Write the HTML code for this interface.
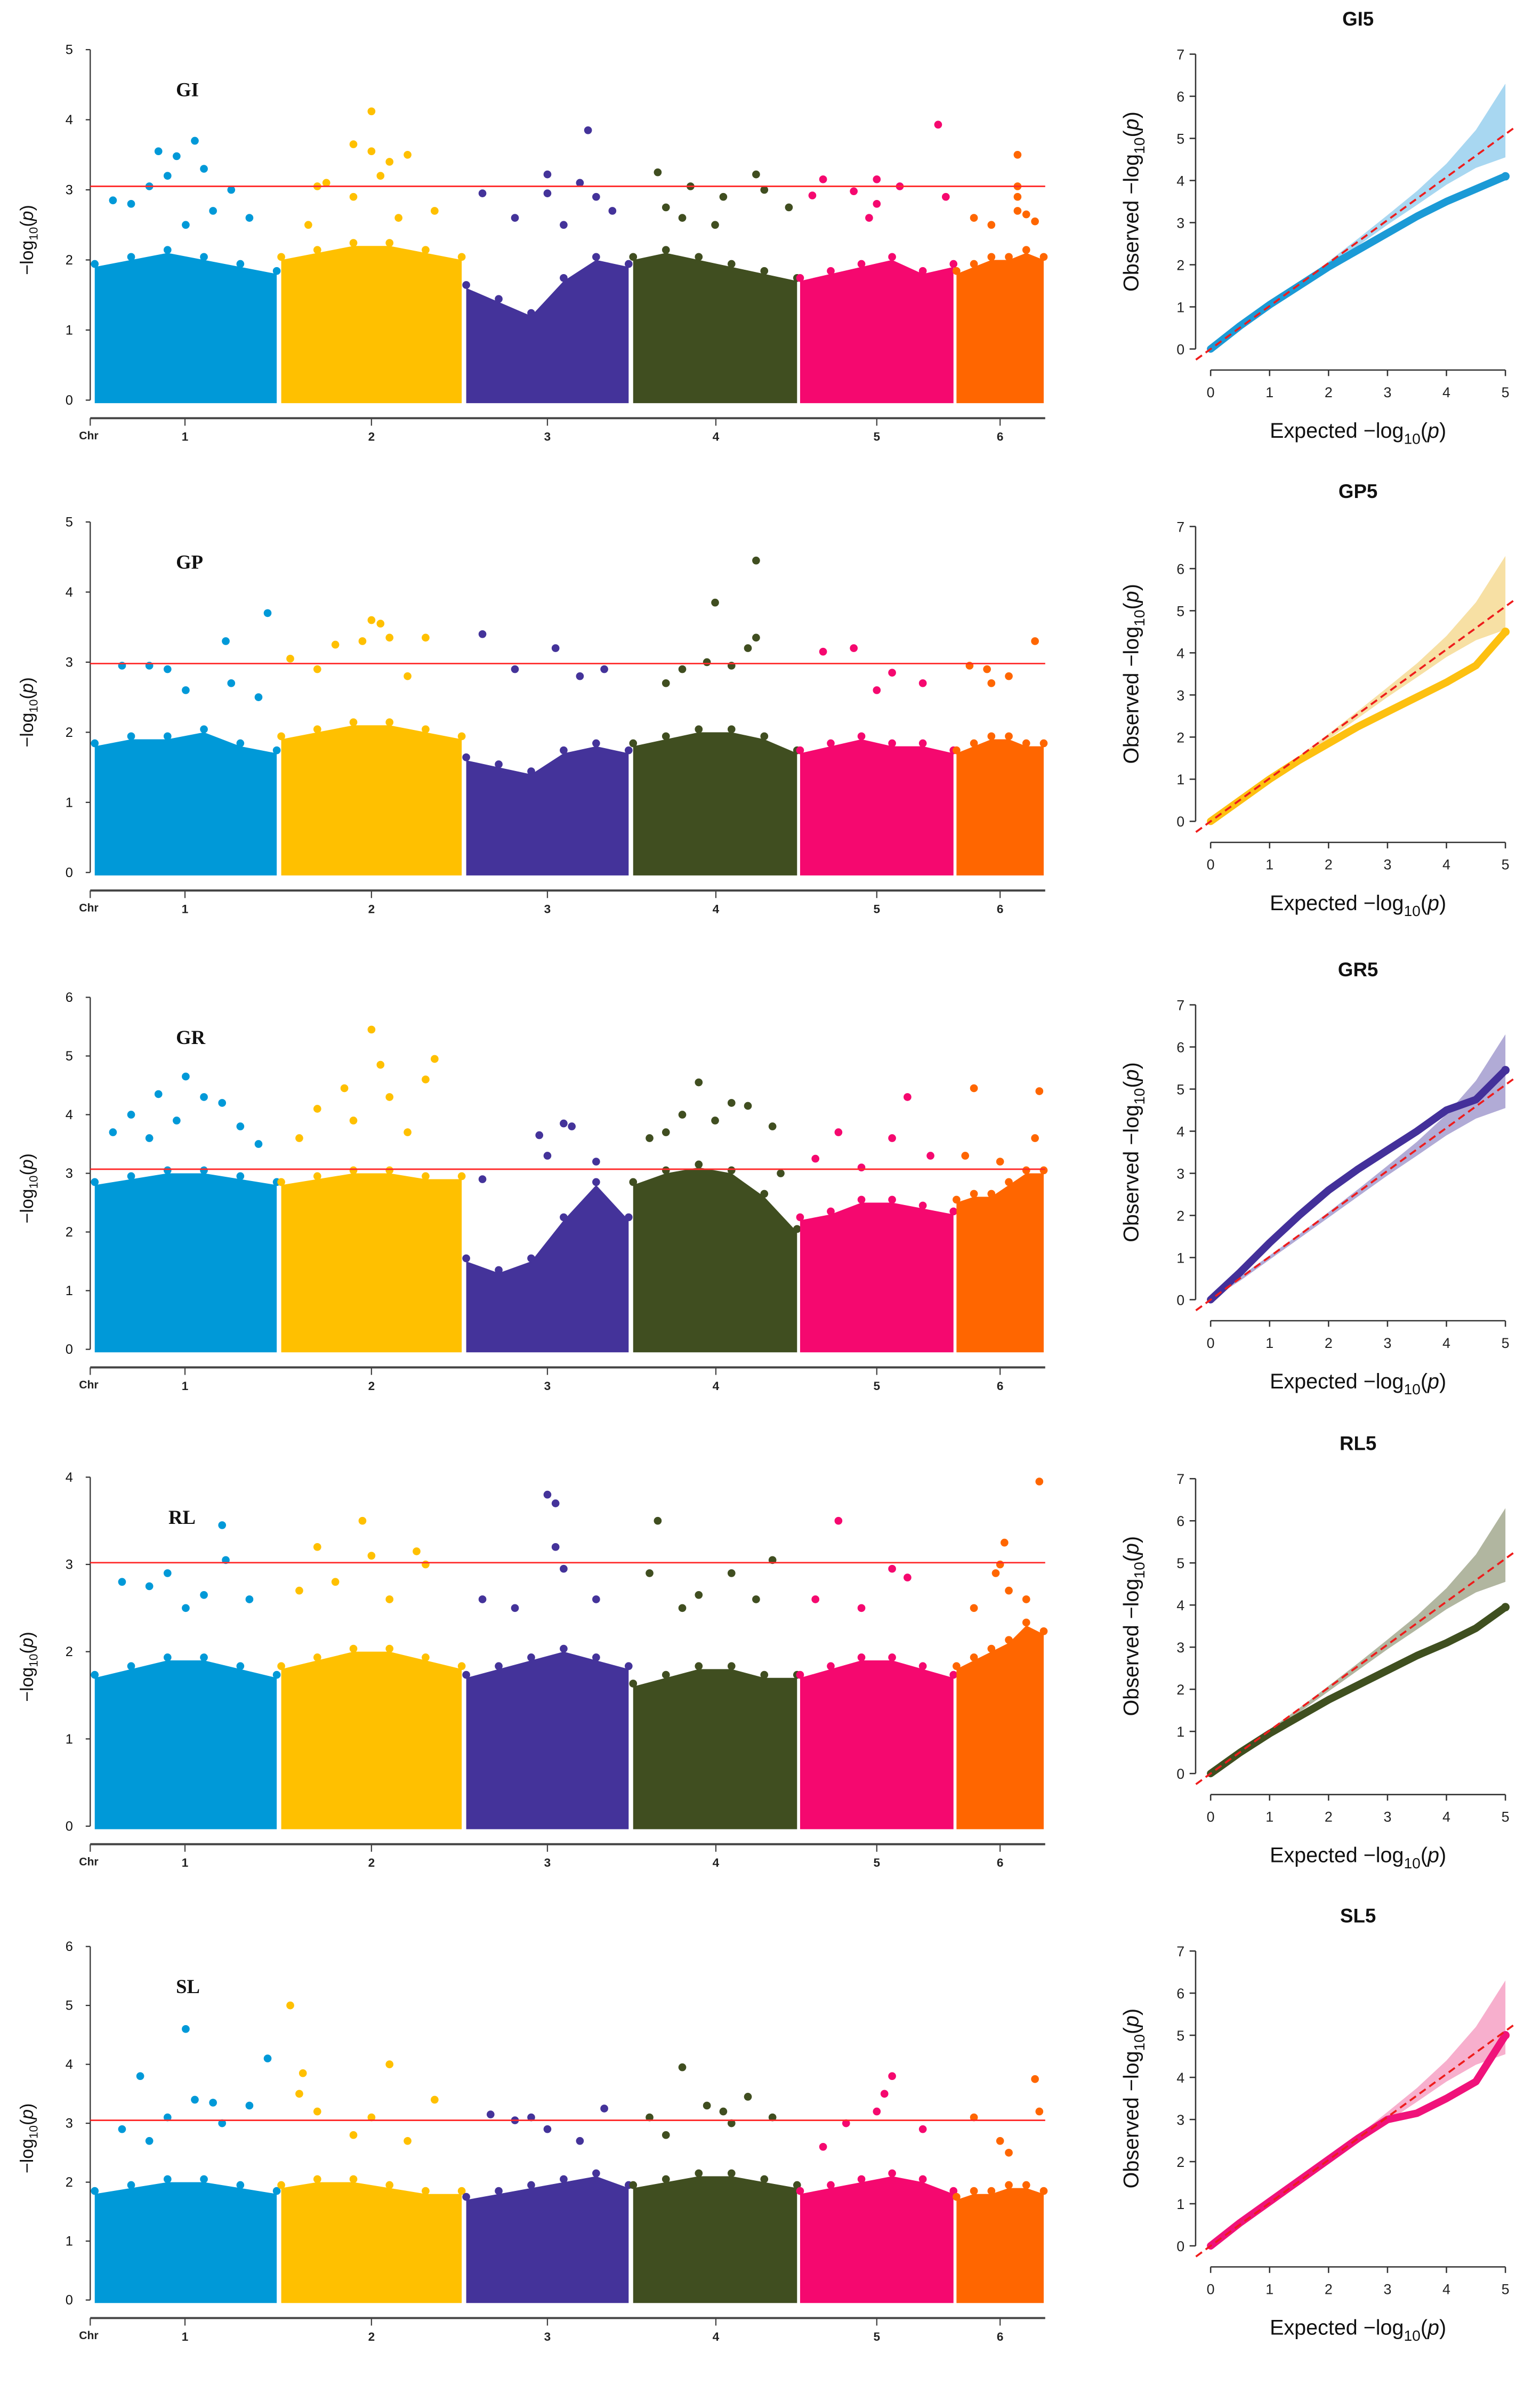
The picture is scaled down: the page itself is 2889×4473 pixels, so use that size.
<!DOCTYPE html>
<html><head><meta charset="utf-8"><style>
html,body{margin:0;padding:0;background:#fff;}
svg{display:block;}
text{font-family:"Liberation Sans",sans-serif;}
</style></head><body>
<svg id="fig" width="2889" height="4473" viewBox="0 0 1024 1585.5" preserveAspectRatio="none" xmlns="http://www.w3.org/2000/svg"></svg>
<script>
// ---------- data ----------
const chrNames = ["1","2","3","4","5","6"];
const chrColors = ["#0099d8","#ffc000","#44339a","#404e20","#f5086f","#ff6600"];
const traitNames = ["GI","GP","GR","RL","SL"];
const yMaxes = [5,5,6,4,6];
const thresholds = [3.05,2.98,3.07,3.02,3.05];
const envGI = [[1.9,2.0,2.1,2.0,1.9,1.8],[2.0,2.1,2.2,2.2,2.1,2.0],[1.6,1.4,1.2,1.7,2.0,1.9],[2.0,2.1,2.0,1.9,1.8,1.7],[1.7,1.8,1.9,2.0,1.8,1.9],[1.8,1.9,2.0,2.0,2.1,2.0]];
const envGP = [[1.8,1.9,1.9,2.0,1.8,1.7],[1.9,2.0,2.1,2.1,2.0,1.9],[1.6,1.5,1.4,1.7,1.8,1.7],[1.8,1.9,2.0,2.0,1.9,1.7],[1.7,1.8,1.9,1.8,1.8,1.7],[1.7,1.8,1.9,1.9,1.8,1.8]];
const envGR = [[2.8,2.9,3.0,3.0,2.9,2.8],[2.8,2.9,3.0,3.0,2.9,2.9],[1.5,1.3,1.5,2.2,2.8,2.2],[2.8,3.0,3.1,3.0,2.6,2.0],[2.2,2.3,2.5,2.5,2.4,2.3],[2.5,2.6,2.6,2.8,3.0,3.0]];
const envRL = [[1.7,1.8,1.9,1.9,1.8,1.7],[1.8,1.9,2.0,2.0,1.9,1.8],[1.7,1.8,1.9,2.0,1.9,1.8],[1.6,1.7,1.8,1.8,1.7,1.7],[1.7,1.8,1.9,1.9,1.8,1.7],[1.8,1.9,2.0,2.1,2.3,2.2]];
const envSL = [[1.8,1.9,2.0,2.0,1.9,1.8],[1.9,2.0,2.0,1.9,1.8,1.8],[1.7,1.8,1.9,2.0,2.1,1.9],[1.9,2.0,2.1,2.1,2.0,1.9],[1.8,1.9,2.0,2.1,2.0,1.8],[1.7,1.8,1.8,1.9,1.9,1.8]];
const ptsGI = [[0,.35,3.55],[0,.55,3.7],[0,.45,3.48],[0,.6,3.3],[0,.3,3.05],[0,.4,3.2],[0,.75,3.0],[0,.1,2.85],[0,.2,2.8],[0,.85,2.6],[0,.5,2.5],[0,.65,2.7],
[1,.5,4.12],[1,.4,3.65],[1,.5,3.55],[1,.7,3.5],[1,.6,3.4],[1,.2,3.05],[1,.25,3.1],[1,.55,3.2],[1,.4,2.9],[1,.85,2.7],[1,.15,2.5],[1,.65,2.6],
[2,.75,3.85],[2,.5,3.22],[2,.7,3.1],[2,.1,2.95],[2,.5,2.95],[2,.8,2.9],[2,.3,2.6],[2,.9,2.7],[2,.6,2.5],
[3,.15,3.25],[3,.75,3.22],[3,.35,3.05],[3,.55,2.9],[3,.8,3.0],[3,.2,2.75],[3,.95,2.75],[3,.5,2.5],[3,.3,2.6],
[4,.15,3.15],[4,.5,3.15],[4,.65,3.05],[4,.35,2.98],[4,.9,3.93],[4,.95,2.9],[4,.08,2.92],[4,.5,2.8],[4,.45,2.6],
[5,.7,3.5],[5,.7,3.05],[5,.7,2.9],[5,.7,2.7],[5,.2,2.6],[5,.9,2.55],[5,.4,2.5],[5,.8,2.65]];
const ptsGP = [[0,.72,3.3],[0,.15,2.95],[0,.3,2.95],[0,.4,2.9],[0,.75,2.7],[0,.5,2.6],[0,.9,2.5],[0,.95,3.7],
[1,.5,3.6],[1,.55,3.55],[1,.6,3.35],[1,.8,3.35],[1,.3,3.25],[1,.05,3.05],[1,.45,3.3],[1,.2,2.9],[1,.7,2.8],
[2,.1,3.4],[2,.55,3.2],[2,.3,2.9],[2,.7,2.8],[2,.85,2.9],
[3,.5,3.85],[3,.75,4.45],[3,.75,3.35],[3,.7,3.2],[3,.45,3.0],[3,.3,2.9],[3,.6,2.95],[3,.2,2.7],
[4,.15,3.15],[4,.35,3.2],[4,.6,2.85],[4,.8,2.7],[4,.5,2.6],
[5,.15,2.95],[5,.35,2.9],[5,.9,3.3],[5,.6,2.8],[5,.4,2.7]];
const ptsGR = [[0,.5,4.65],[0,.35,4.35],[0,.6,4.3],[0,.2,4.0],[0,.7,4.2],[0,.45,3.9],[0,.8,3.8],[0,.1,3.7],[0,.3,3.6],[0,.9,3.5],
[1,.5,5.45],[1,.55,4.85],[1,.85,4.95],[1,.8,4.6],[1,.35,4.45],[1,.6,4.3],[1,.2,4.1],[1,.4,3.9],[1,.7,3.7],[1,.1,3.6],
[2,.45,3.65],[2,.6,3.85],[2,.65,3.8],[2,.5,3.3],[2,.1,2.9],[2,.8,3.2],
[3,.4,4.55],[3,.6,4.2],[3,.7,4.15],[3,.3,4.0],[3,.5,3.9],[3,.2,3.7],[3,.1,3.6],[3,.85,3.8],[3,.9,3.0],
[4,.1,3.25],[4,.25,3.7],[4,.7,4.3],[4,.6,3.6],[4,.4,3.1],[4,.85,3.3],
[5,.2,4.45],[5,.95,4.4],[5,.9,3.6],[5,.1,3.3],[5,.5,3.2]];
const ptsRL = [[0,.7,3.45],[0,.72,3.05],[0,.4,2.9],[0,.15,2.8],[0,.3,2.75],[0,.6,2.65],[0,.5,2.5],[0,.85,2.6],
[1,.2,3.2],[1,.45,3.5],[1,.5,3.1],[1,.75,3.15],[1,.8,3.0],[1,.3,2.8],[1,.6,2.6],[1,.1,2.7],
[2,.5,3.8],[2,.55,3.7],[2,.55,3.2],[2,.6,2.95],[2,.1,2.6],[2,.3,2.5],[2,.8,2.6],
[3,.15,3.5],[3,.1,2.9],[3,.85,3.05],[3,.6,2.9],[3,.4,2.65],[3,.3,2.5],[3,.75,2.6],
[4,.25,3.5],[4,.6,2.95],[4,.7,2.85],[4,.1,2.6],[4,.4,2.5],
[5,.95,3.95],[5,.55,3.25],[5,.5,3.0],[5,.45,2.9],[5,.6,2.7],[5,.2,2.5],[5,.8,2.6]];
const ptsSL = [[0,.5,4.6],[0,.95,4.1],[0,.25,3.8],[0,.55,3.4],[0,.65,3.35],[0,.85,3.3],[0,.4,3.1],[0,.15,2.9],[0,.7,3.0],[0,.3,2.7],
[1,.05,5.0],[1,.12,3.85],[1,.6,4.0],[1,.85,3.4],[1,.1,3.5],[1,.2,3.2],[1,.5,3.1],[1,.4,2.8],[1,.7,2.7],
[2,.15,3.15],[2,.3,3.05],[2,.4,3.1],[2,.85,3.25],[2,.5,2.9],[2,.7,2.7],
[3,.3,3.95],[3,.45,3.3],[3,.55,3.2],[3,.7,3.45],[3,.1,3.1],[3,.85,3.1],[3,.6,3.0],[3,.2,2.8],
[4,.6,3.8],[4,.55,3.5],[4,.5,3.2],[4,.3,3.0],[4,.8,2.9],[4,.15,2.6],
[5,.9,3.75],[5,.95,3.2],[5,.2,3.1],[5,.5,2.7],[5,.6,2.5]];
const qqTitles = ["GI5","GP5","GR5","RL5","SL5"];
const qqExpected = [0,0.5,1,1.5,2,2.5,3,3.5,4,4.5,5];
const obsGI5 = [0,0.55,1.05,1.5,1.95,2.35,2.75,3.15,3.5,3.8,4.1];
const obsGP5 = [0,0.5,1.0,1.45,1.85,2.25,2.6,2.95,3.3,3.7,4.5];
const obsGR5 = [0,0.65,1.35,2.0,2.6,3.1,3.55,4.0,4.5,4.75,5.45];
const obsRL5 = [0,0.5,0.95,1.35,1.75,2.1,2.45,2.8,3.1,3.45,3.95];
const obsSL5 = [0,0.55,1.05,1.55,2.05,2.55,3.0,3.15,3.5,3.9,5.0];
const ciUpper = [0,0.55,1.05,1.55,2.08,2.62,3.18,3.75,4.4,5.2,6.3];
const ciLower = [0,0.45,0.95,1.45,1.95,2.45,2.95,3.42,3.9,4.3,4.55];
const qqColors = ["#1b9ad6","#fdc010","#43309a","#3f4f1f","#f0127a"];
const qqBand = ["#9fd3ef","#f6dd9a","#a9a2d2","#a8ae96","#f6a6c8"];

const svg = document.getElementById('fig');
const NS = 'http://www.w3.org/2000/svg';
function mk(tag, attrs, parent){const e=document.createElementNS(NS,tag);for(const k in attrs)e.setAttribute(k,attrs[k]);(parent||svg).appendChild(e);return e;}
const chrX0 = [63,187,310,421,532,636];
const chrX1 = [184,307,418,530,634,694];
const chrLabelX = [123,247,364,476,583,665];
const zeroY = [266,580,897,1214,1529];
const topY = [33,347,663,982,1294];
const qqZero = [232,546,864,1179,1493];
const envs = [envGI,envGP,envGR,envRL,envSL];
const pts = [ptsGI,ptsGP,ptsGR,ptsRL,ptsSL];
const obs = [obsGI5,obsGP5,obsGR5,obsRL5,obsSL5];

for(let p=0;p<5;p++){
  const g = mk('g',{});
  
  
  const y0=zeroY[p], y1=topY[p], ym=yMaxes[p];
  const yS = v => y0-(y0-y1)*v/ym;
  const xS = (c,r) => chrX0[c]+(chrX1[c]-chrX0[c])*r;
  const ax = mk('line',{x1:60,y1:y1,x2:60,y2:y0,stroke:'#333','stroke-width':0.8},g);
  
  
  for(let t=0;t<=ym;t++){
    mk('line',{x1:57,y1:yS(t),x2:60,y2:yS(t),stroke:'#333','stroke-width':0.8},g);
    const tl=mk('text',{x:46,y:yS(t)+3,'font-size':9,'text-anchor':'middle',fill:'#111'},g);
    tl.textContent=t;
    
    
  }
  const yt = mk('text',{x:0,y:0,'font-size':12,'text-anchor':'middle',fill:'#111',transform:`translate(22,${(y0+y1)/2+10}) rotate(-90)`},g);
  yt.innerHTML='−log<tspan font-size="8" dy="3">10</tspan><tspan dy="-3">(</tspan><tspan font-style="italic">p</tspan>)';
  
  
  for(let c=0;c<6;c++){
    const e=envs[p][c]; let d=`M${chrX0[c]},${y0+2}`;
    e.forEach((v,i)=>{d+=` L${xS(c,i/(e.length-1))},${yS(v)}`;});
    d+=` L${chrX1[c]},${y0+2} Z`;
    const a=mk('path',{d:d,fill:chrColors[c]},g);
    
    
    for(let i=0;i<e.length;i++){
      const dot=mk('circle',{cx:xS(c,i/(e.length-1)),cy:yS(e[i])-2,r:2.6,fill:chrColors[c]},g);
      
      
    }
  }
  pts[p].forEach(q=>{
    const dot=mk('circle',{cx:xS(q[0],q[1]),cy:yS(q[2]),r:2.6,fill:chrColors[q[0]]},g);
    
    
  });
  const th=mk('line',{x1:60,y1:yS(thresholds[p]),x2:695,y2:yS(thresholds[p]),stroke:'#ff2a2a','stroke-width':1},g);
  
  
  const xa=y0+12;
  const xl=mk('line',{x1:60,y1:xa,x2:695,y2:xa,stroke:'#444','stroke-width':1.4},g);
  
  
  const cl=mk('text',{x:59,y:xa+14,'font-size':7.5,'font-weight':'bold','text-anchor':'middle',fill:'#222'},g);
  cl.textContent='Chr';
  
  
  mk('line',{x1:60,y1:xa,x2:60,y2:xa+5,stroke:'#444','stroke-width':0.8},g);
  for(let c=0;c<6;c++){
    mk('line',{x1:chrLabelX[c],y1:xa,x2:chrLabelX[c],y2:xa+5,stroke:'#444','stroke-width':0.8},g);
    const t=mk('text',{x:chrLabelX[c],y:xa+15,'font-size':8,'font-weight':'bold','text-anchor':'middle',fill:'#222'},g);
    t.textContent=chrNames[c];
    
    
  }
  const lab=mk('text',{x:p===3?112:117,y:y1+31,'font-size':13,'font-weight':'bold',fill:'#111',style:'font-family:"Liberation Serif",serif'},g);
  lab.textContent=traitNames[p];
  
  

  const q = mk('g',{});
  
  
  const qy0=qqZero[p], uy=28;
  const qx = v => 805+39.2*v;
  const qyS = v => qy0-uy*v;
  const tt=mk('text',{x:903,y:qy0-215,'font-size':13,'font-weight':'bold','text-anchor':'middle',fill:'#111'},q);
  tt.textContent=qqTitles[p];
  
  
  mk('line',{x1:795,y1:qyS(0),x2:795,y2:qyS(7),stroke:'#333','stroke-width':0.9},q);
  for(let t=0;t<=7;t++){
    mk('line',{x1:791,y1:qyS(t),x2:795,y2:qyS(t),stroke:'#333','stroke-width':0.9},q);
    const l=mk('text',{x:785,y:qyS(t)+3.5,'font-size':9.5,'text-anchor':'middle',fill:'#222'},q);
    l.textContent=t;
    
    
  }
  const xay=qy0+14;
  mk('line',{x1:qx(0),y1:xay,x2:qx(5),y2:xay,stroke:'#333','stroke-width':0.9},q);
  for(let t=0;t<=5;t++){
    mk('line',{x1:qx(t),y1:xay,x2:qx(t),y2:xay+4,stroke:'#333','stroke-width':0.9},q);
    const l=mk('text',{x:qx(t),y:xay+18,'font-size':9.5,'text-anchor':'middle',fill:'#222'},q);
    l.textContent=t;
    
    
  }
  const ox=mk('text',{x:0,y:0,'font-size':14,'text-anchor':'middle',fill:'#111',transform:`translate(757,${qy0-98}) rotate(-90)`},q);
  ox.innerHTML='Observed  −log<tspan font-size="10" dy="4">10</tspan><tspan dy="-4">(</tspan><tspan font-style="italic">p</tspan>)';
  
  
  const ex=mk('text',{x:903,y:qy0+59,'font-size':14,'text-anchor':'middle',fill:'#111'},q);
  ex.innerHTML='Expected  −log<tspan font-size="10" dy="4">10</tspan><tspan dy="-4">(</tspan><tspan font-style="italic">p</tspan>)';
  
  
  let bd='M'+qx(qqExpected[0])+','+qyS(ciUpper[0]);
  qqExpected.forEach((e,i)=>{bd+=' L'+qx(e)+','+qyS(ciUpper[i]);});
  for(let i=qqExpected.length-1;i>=0;i--) bd+=' L'+qx(qqExpected[i])+','+qyS(ciLower[i]);
  const band=mk('path',{d:bd+' Z',fill:qqBand[p],opacity:0.9},q);
  
  
  let od='M'+qx(qqExpected[0])+','+qyS(obs[p][0]);
  qqExpected.forEach((e,i)=>{od+=' L'+qx(e)+','+qyS(obs[p][i]);});
  const ol=mk('path',{d:od,fill:'none',stroke:qqColors[p],'stroke-width':5,'stroke-linecap':'round','stroke-linejoin':'round'},q);
  
  
  const last=qqExpected.length-1;
  const ld=mk('circle',{cx:qx(qqExpected[last]),cy:qyS(obs[p][last]),r:2.8,fill:qqColors[p]},q);
  
  
  const rl=mk('line',{x1:qx(-0.25),y1:qyS(-0.25*1.02),x2:qx(5.15),y2:qyS(5.15*1.02),stroke:'#ee1c1c','stroke-width':1.3,'stroke-dasharray':'5,3'},q);
  
  
}
</script>
</body></html>
